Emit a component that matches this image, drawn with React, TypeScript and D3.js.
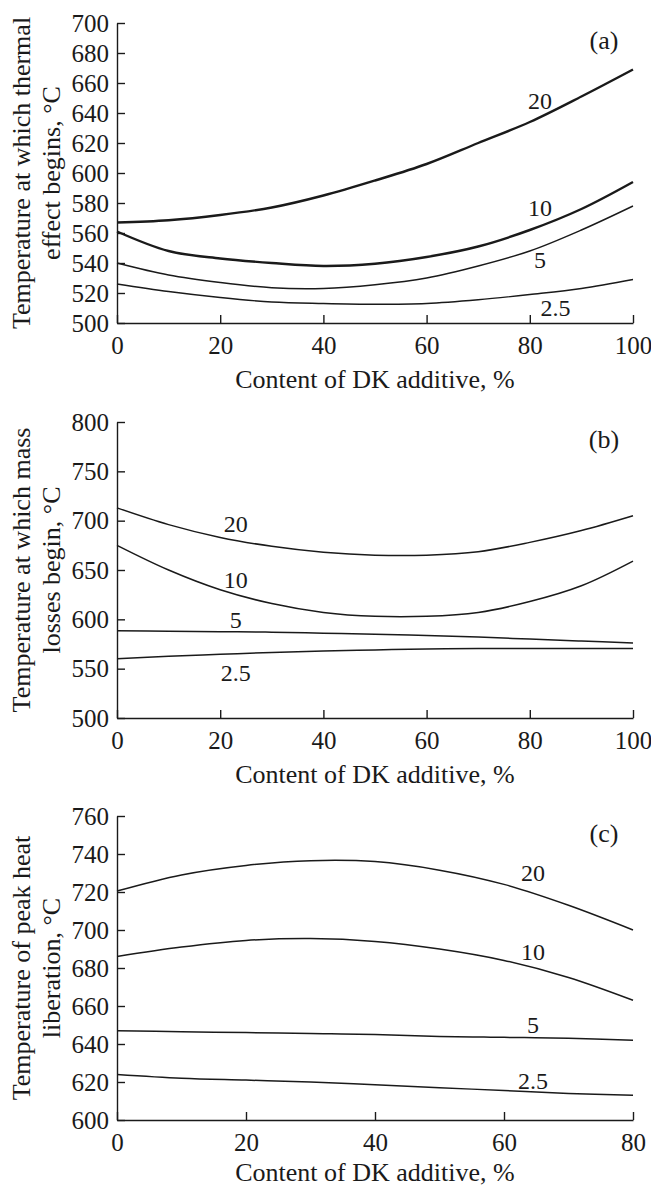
import * as d3 from "d3";
import { useEffect, useRef } from "react";

// x values (content of DK additive, %)
const xAB = [0, 10, 20, 30, 40, 50, 60, 70, 80, 90, 100];
const xC = [0, 10, 20, 30, 40, 50, 60, 70, 80];

// (a) temperature at which thermal effect begins
const aCurve20 = [567, 568.5, 572, 577, 585, 595, 606, 620, 634, 651, 669];
const aCurve10 = [561, 548, 543, 540, 538, 539.5, 544, 551, 562, 576, 594];
const aCurve5 = [540, 532, 527, 523.5, 523, 525.5, 530, 538, 548, 562, 578];
const aCurve2_5 = [526, 521, 517, 514, 513, 512.5, 513, 515.5, 519, 523, 529];

// (b) temperature at which mass losses begin
const bCurve20 = [713, 696, 683, 674, 668, 665, 665, 668.5, 678, 690, 705];
const bCurve10 = [675, 650, 630, 616, 607, 603, 603, 607, 618, 634, 659];
const bCurve5 = [588.5, 588, 587.5, 587, 586, 585, 583.5, 582, 580, 578, 576];
const bCurve2_5 = [560, 562.5, 564.5, 566.5, 568, 569, 570, 570.5, 570.5, 570.5, 570.5];

// (c) temperature of peak heat liberation
const cCurve20 = [720.5, 729, 734, 736.5, 736, 731.5, 724, 713, 700];
const cCurve10 = [686, 691, 694.5, 695.5, 694, 690, 684, 675, 663];
const cCurve5 = [647, 646.5, 646, 645.5, 645, 644, 643.5, 643, 642];
const cCurve2_5 = [624, 622, 621, 620, 618.5, 617, 615.5, 614, 613];

const seriesNames = ["20", "10", "5", "2.5"];

const xTicksAB = [0, 20, 40, 60, 80, 100];
const xTicksC = [0, 20, 40, 60, 80];
const yTicksA = [500, 520, 540, 560, 580, 600, 620, 640, 660, 680, 700];
const yTicksB = [500, 550, 600, 650, 700, 750, 800];
const yTicksC = [600, 620, 640, 660, 680, 700, 720, 740, 760];

const W = 651;
const H = 1190;
const left = 117;
const right = 633;
const FONT = "'Liberation Serif', 'Times New Roman', serif";

const panels = [
  {
    tag: "(a)",
    top: 23, bottom: 323, titleGap: 56,
    xs: xAB, xTicks: xTicksAB, yTicks: yTicksA,
    series: [aCurve20, aCurve10, aCurve5, aCurve2_5],
    widths: [2.4, 2.4, 1.4, 1.4],
    labels: [[82, 648], [82, 577], [82, 542], [85, 510]],
    title: ["Temperature at which thermal", "effect begins, °C"],
  },
  {
    tag: "(b)",
    top: 422, bottom: 718, titleGap: 56,
    xs: xAB, xTicks: xTicksAB, yTicks: yTicksB,
    series: [bCurve20, bCurve10, bCurve5, bCurve2_5],
    widths: [1.5, 1.5, 1.5, 1.5],
    labels: [[23, 697], [23, 640], [23, 600], [23, 546]],
    title: ["Temperature at which mass", "losses begin, °C"],
  },
  {
    tag: "(c)",
    top: 816, bottom: 1120, titleGap: 52,
    xs: xC, xTicks: xTicksC, yTicks: yTicksC,
    series: [cCurve20, cCurve10, cCurve5, cCurve2_5],
    widths: [1.5, 1.5, 1.5, 1.5],
    labels: [[64.5, 730], [64.5, 688.5], [64.5, 650], [64.5, 621]],
    title: ["Temperature of peak heat", "liberation, °C"],
  },
];

function Panel({ p }) {
  const xRef = useRef(null);
  const yRef = useRef(null);

  const x = d3
    .scaleLinear()
    .domain([p.xTicks[0], p.xTicks[p.xTicks.length - 1]])
    .range([left, right]);
  const y = d3
    .scaleLinear()
    .domain([p.yTicks[0], p.yTicks[p.yTicks.length - 1]])
    .range([p.bottom, p.top]);

  useEffect(() => {
    const xAxis = d3.axisBottom(x).tickValues(p.xTicks).tickSizeInner(-8).tickSizeOuter(0).tickPadding(13).tickFormat(d3.format("d"));
    const yAxis = d3.axisLeft(y).tickValues(p.yTicks).tickSizeInner(-8).tickSizeOuter(0).tickPadding(8).tickFormat(d3.format("d"));
    for (const [ref, axis] of [[xRef, xAxis], [yRef, yAxis]]) {
      const g = d3.select(ref.current);
      g.call(axis);
      g.selectAll("path, line").attr("stroke", "#1a1a1a").attr("stroke-width", 1.4);
      g.selectAll("text").attr("font-family", FONT).attr("font-size", 25).attr("fill", "#1a1a1a");
      g.attr("font-family", null).attr("font-size", null);
    }
  }, []);

  const line = d3
    .line()
    .x((d) => x(d[0]))
    .y((d) => y(d[1]))
    .curve(d3.curveCatmullRom.alpha(0.5));

  const cy = (p.top + p.bottom) / 2;

  return (
    <g>
      <g ref={xRef} transform={`translate(0,${p.bottom})`} />
      <g ref={yRef} transform={`translate(${left},0)`} />
      {p.series.map((vals, i) => (
        <path
          key={i}
          d={line(p.xs.map((xv, j) => [xv, vals[j]]))}
          fill="none"
          stroke="#1a1a1a"
          strokeWidth={p.widths[i]}
        />
      ))}
      {p.labels.map((l, i) => (
        <text key={i} x={x(l[0])} y={y(l[1])} dy="0.35em" textAnchor="middle" fontSize={24} fontFamily={FONT} fill="#1a1a1a">
          {seriesNames[i]}
        </text>
      ))}
      <text x={604} y={p.top + 17} dy="0.35em" textAnchor="middle" fontSize={26} fontFamily={FONT} fill="#1a1a1a">
        {p.tag}
      </text>
      <text x={(left + right) / 2} y={p.bottom + p.titleGap} dy="0.35em" textAnchor="middle" fontSize={26} fontFamily={FONT} fill="#1a1a1a">
        Content of DK additive, %
      </text>
      <text transform={`translate(21,${cy}) rotate(-90)`} dy="0.35em" textAnchor="middle" fontSize={26} fontFamily={FONT} fill="#1a1a1a">
        {p.title[0]}
      </text>
      <text transform={`translate(51,${cy}) rotate(-90)`} dy="0.35em" textAnchor="middle" fontSize={26} fontFamily={FONT} fill="#1a1a1a">
        {p.title[1]}
      </text>
    </g>
  );
}

export default function App() {
  return (
    <>
      <style>{`body{margin:0}`}</style>
      <svg width={W} height={H} style={{ display: "block", background: "#fff" }}>
        {panels.map((p) => (
          <Panel key={p.tag} p={p} />
        ))}
      </svg>
    </>
  );
}
